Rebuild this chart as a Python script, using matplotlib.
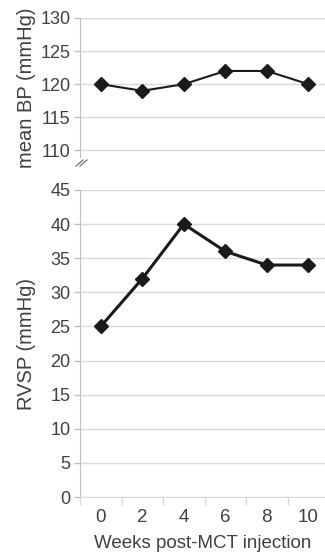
import matplotlib
matplotlib.use('Agg')
import matplotlib.pyplot as plt
from matplotlib.lines import Line2D

# data
weeks = [0, 2, 4, 6, 8, 10]
mean_bp = [120, 119, 120, 122, 122, 120]
rvsp = [25, 32, 40, 36, 34, 34]
bp_ticks = [110, 115, 120, 125, 130]
rvsp_ticks = [0, 5, 10, 15, 20, 25, 30, 35, 40, 45]

plt.rcParams['font.family'] = ['Liberation Sans', 'DejaVu Sans']
text_col = '#404040'
grid_col = '#d9d9d9'
spine_col = '#bfbfbf'
line_col = '#1a1a1a'

W, H = 325, 558
fig = plt.figure(figsize=(W / 100, H / 100), dpi=100)

def px_axes(left, top, right, bottom):
    return fig.add_axes([left / W, 1 - bottom / H, (right - left) / W, (bottom - top) / H])

def style(ax, ticks):
    ax.set_yticks(ticks)
    ax.set_xlim(-1, 10.8)
    ax.grid(axis='y', color=grid_col, linewidth=1)
    ax.set_axisbelow(True)
    for s in ['top', 'right']:
        ax.spines[s].set_visible(False)
    ax.spines['left'].set_color(spine_col)
    ax.tick_params(axis='y', colors=spine_col, labelcolor=text_col, length=4,
                   width=1, labelsize=13, pad=3)

# top panel: mean BP
ax1 = px_axes(80, 18, 325, 157)
style(ax1, bp_ticks)
ax1.set_ylim(109, 130)
ax1.spines['bottom'].set_visible(False)
ax1.set_xticks([])
ax1.plot(weeks, mean_bp, color=line_col, linewidth=1.5, marker='D', markersize=7)
ax1.set_ylabel('mean BP (mmHg)', fontsize=14.5, color=text_col)
ax1.yaxis.set_label_coords(-44 / 245, 0.5)

# axis break mark
for dx in (0, 4):
    fig.add_artist(Line2D([(76 + dx) / W, (83 + dx) / W], [1 - 166 / H, 1 - 160 / H],
                          color='#808080', linewidth=1))

# bottom panel: RVSP
ax2 = px_axes(80, 190, 325, 497)
style(ax2, rvsp_ticks)
ax2.set_ylim(0, 45)
ax2.spines['bottom'].set_color(grid_col)
ax2.plot(weeks, rvsp, color=line_col, linewidth=2.2, marker='D', markersize=7)
ax2.set_ylabel('RVSP (mmHg)', fontsize=14.5, color=text_col)
ax2.yaxis.set_label_coords(-44 / 245, 0.5)

# category style x axis: labels at weeks, tick marks between categories
ax2.set_xticks(weeks)
ax2.set_xticklabels([str(w) for w in weeks])
ax2.tick_params(axis='x', length=0, labelcolor=text_col, labelsize=13.5, pad=9)
ax2.set_xticks([-1, 1, 3, 5, 7, 9], minor=True)
ax2.tick_params(axis='x', which='minor', length=6, color=grid_col, width=1)
ax2.set_xlabel('Weeks post-MCT injection', fontsize=13.5, color=text_col, labelpad=6)

fig.savefig('out.png', dpi=100)
